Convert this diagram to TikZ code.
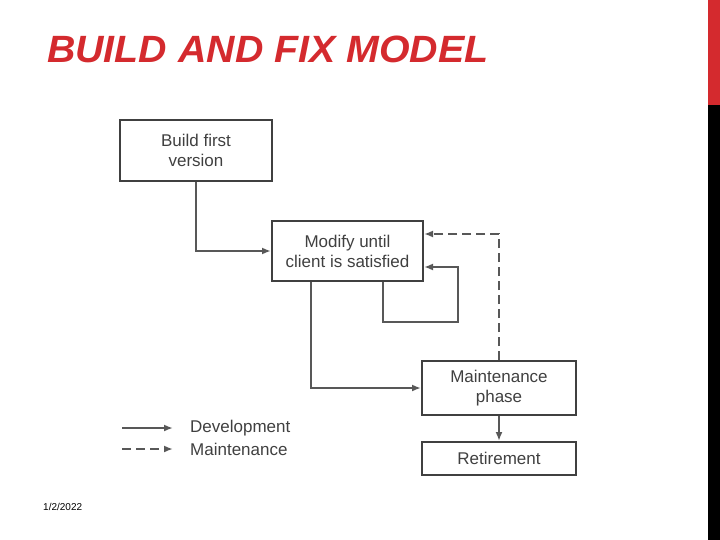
\documentclass[tikz,border=0pt]{standalone}
\usepackage{fontspec}
\setmainfont{Liberation Sans}
\newfontfamily\titlefont[FakeStretch=1.035]{Liberation Sans}
\usepackage{tikz}
\usetikzlibrary{positioning,calc,arrows.meta}
\definecolor{fixred}{RGB}{212,42,46}
\definecolor{fixink}{RGB}{64,64,64}
\definecolor{fixline}{RGB}{88,88,88}
\definecolor{fixbar}{RGB}{0,0,0}
\begin{document}
\begin{tikzpicture}[x=1pt, y=-1pt,
      phase/.style={rectangle, draw=fixink, line width=2pt, align=center,
        text=fixink, font=\fontsize{17}{20}\selectfont, inner sep=0pt},
      devline/.style={-{Latex[length=9pt,width=7pt]}, line width=2pt, color=fixline},
      mntline/.style={devline, dash pattern=on 9pt off 5pt},
      legendtxt/.style={anchor=west, inner xsep=17pt, inner ysep=0pt, text=fixink,
        font=\fontsize{17}{20}\selectfont}
    ]
    \useasboundingbox (0,0) rectangle (720,540);
    \fill[fixred] (708,0) rectangle (720,105);
    \fill[fixbar] (708,105) rectangle (720,540);

    \node[anchor=base west, text=fixred, inner sep=0pt,
      font=\titlefont\fontsize{38}{40}\selectfont\bfseries\itshape] (title) at (47,63) {BUILD AND FIX MODEL};

    \node[phase, minimum width=152pt, minimum height=61pt] (build) at (196,150.5) {Build first\\version};
    \node[phase, minimum width=151pt, minimum height=60pt] (modify) at (347.5,251) {Modify until\\client is satisfied};
    \node[phase, minimum width=154pt, minimum height=54pt] (maint) at (499,388) {Maintenance\\phase};
    \node[phase, minimum width=154pt, minimum height=33pt] (retire) at (499,458.5) {Retirement};

    \draw[devline] (build) |- (modify);
    \draw[devline] ($(modify.south)+(35.5,0)$) -- ++(0,40) -- ++(75,0) |- ($(modify.east)+(0,16)$);
    \draw[devline] ($(modify.south)+(-36.5,0)$) |- (maint.west);
    \draw[mntline] (maint.north) |- ($(modify.east)+(0,-17)$);
    \draw[devline] (maint) -- (retire);

    \node[legendtxt] (devlbl) at (173,428) {Development};
    \node[legendtxt] (mntlbl) at (173,449) {Maintenance};
    \coordinate (devstart) at (122,428);
    \coordinate (mntstart) at (122,449);
    \draw[devline] (devstart) -- (devlbl.west);
    \draw[mntline] (mntstart) -- (mntlbl.west);

    \node[anchor=base west, inner sep=0pt, font=\fontsize{10}{12}\selectfont] (date) at (43,510) {1/2/2022};
  \end{tikzpicture}
\end{document}
